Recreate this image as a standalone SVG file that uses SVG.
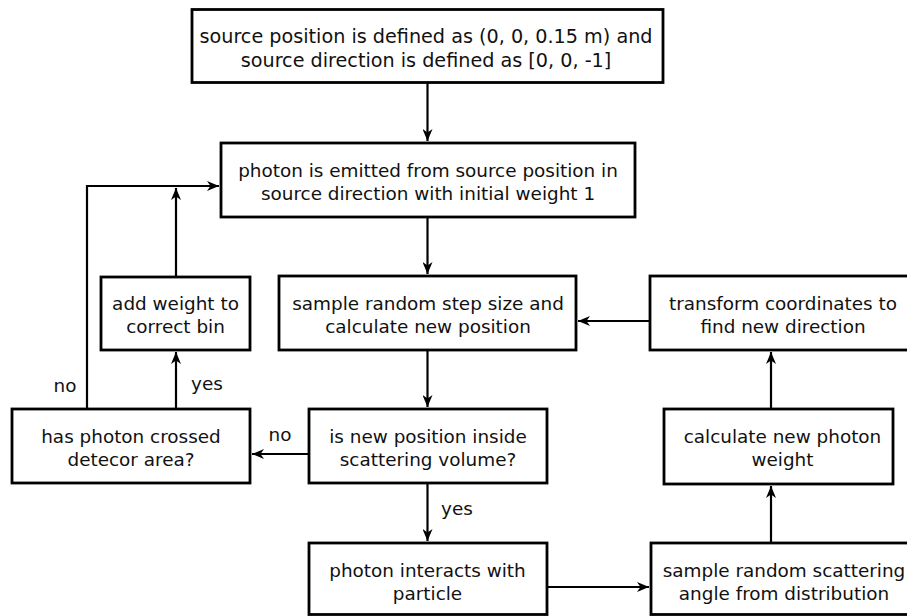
<svg xmlns="http://www.w3.org/2000/svg" width="907" height="616" viewBox="0 0 907 616">
<style>
.box{fill:#fff;stroke:#000;stroke-width:2.8}
.t{font-family:"DejaVu Sans","Verdana",sans-serif;font-size:18.4px;fill:#111;text-anchor:middle}
.big{font-size:19.2px}
.c{fill:none;stroke:#000;stroke-width:2.2}
</style>
<defs>
<marker id="ah" markerUnits="userSpaceOnUse" markerWidth="13" markerHeight="10" refX="12" refY="5" orient="auto">
<path d="M0,0 L12,5 L0,10 L3.5,5 z" fill="#000"/>
</marker>
</defs>
<rect width="907" height="616" fill="#fff"/>
<g id="connectors">
<path class="c" d="M427.5,83 V141" marker-end="url(#ah)"/>
<path class="c" d="M427.5,217 V274" marker-end="url(#ah)"/>
<path class="c" d="M427.5,350 V407" marker-end="url(#ah)"/>
<path class="c" d="M427.5,483 V541" marker-end="url(#ah)"/>
<path class="c" d="M309,454 H252" marker-end="url(#ah)"/>
<path class="c" d="M176,409 V352" marker-end="url(#ah)"/>
<path class="c" d="M87,409 V186 H219" marker-end="url(#ah)"/>
<path class="c" d="M176,277 V188" marker-end="url(#ah)"/>
<path class="c" d="M547,587 H649" marker-end="url(#ah)"/>
<path class="c" d="M771,543 V486" marker-end="url(#ah)"/>
<path class="c" d="M771,409 V352" marker-end="url(#ah)"/>
<path class="c" d="M650,321 H578" marker-end="url(#ah)"/>
<text class="t" x="457" y="515">yes</text>
<text class="t" x="280" y="441">no</text>
<text class="t" x="207" y="390">yes</text>
<text class="t" x="65" y="392">no</text>
</g>
<g id="n_source">
<rect class="box" x="192" y="9.5" width="471" height="73"/>
<text class="t big" x="426" y="43">source position is defined as (0, 0, 0.15 m) and</text>
<text class="t big" x="426" y="67">source direction is defined as [0, 0, -1]</text>
</g>
<g id="n_emit">
<rect class="box" x="221" y="143" width="414" height="74"/>
<text class="t" x="428" y="177">photon is emitted from source position in</text>
<text class="t" x="428" y="200">source direction with initial weight 1</text>
</g>
<g id="n_add">
<rect class="box" x="101" y="277" width="149" height="73"/>
<text class="t" x="175.5" y="310">add weight to</text>
<text class="t" x="175.5" y="333">correct bin</text>
</g>
<g id="n_step">
<rect class="box" x="279" y="276" width="297" height="74"/>
<text class="t" x="428" y="310">sample random step size and</text>
<text class="t" x="428" y="333">calculate new position</text>
</g>
<g id="n_transform">
<rect class="box" x="650" y="276" width="266" height="74"/>
<text class="t" x="783" y="310">transform coordinates to</text>
<text class="t" x="783" y="333">find new direction</text>
</g>
<g id="n_crossed">
<rect class="box" x="12" y="409" width="238" height="74"/>
<text class="t" x="131" y="443">has photon crossed</text>
<text class="t" x="131" y="466">detecor area?</text>
</g>
<g id="n_inside">
<rect class="box" x="309" y="409" width="238" height="74"/>
<text class="t" x="428" y="443">is new position inside</text>
<text class="t" x="428" y="466">scattering volume?</text>
</g>
<g id="n_weight">
<rect class="box" x="664" y="409" width="229" height="75"/>
<text class="t" x="782.5" y="443">calculate new photon</text>
<text class="t" x="782.5" y="466">weight</text>
</g>
<g id="n_interact">
<rect class="box" x="309" y="543" width="238" height="71.5"/>
<text class="t" x="427.5" y="577">photon interacts with</text>
<text class="t" x="427.5" y="600">particle</text>
</g>
<g id="n_angle">
<rect class="box" x="651" y="543" width="266" height="71.5"/>
<text class="t" x="784" y="577">sample random scattering</text>
<text class="t" x="784" y="600">angle from distribution</text>
</g>
</svg>
